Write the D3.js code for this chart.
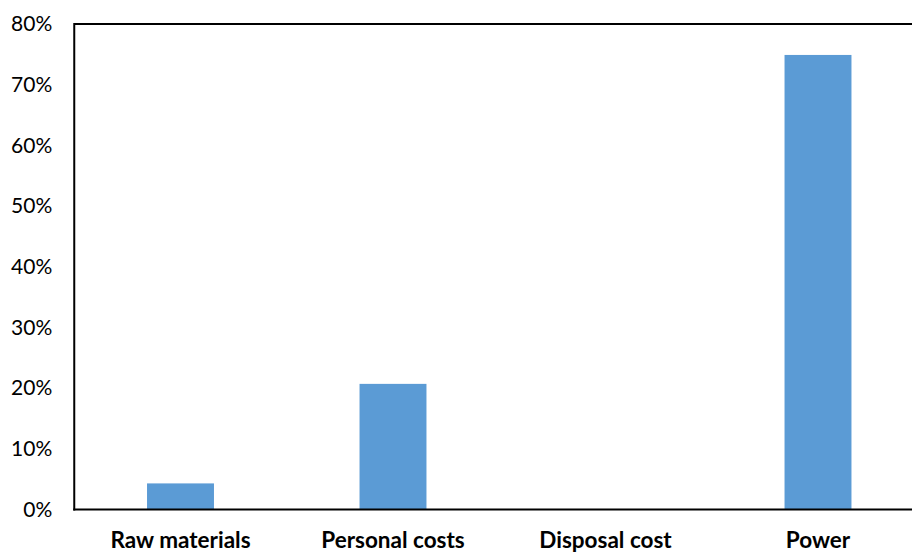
<!DOCTYPE html>
<html>
<head>
<meta charset="utf-8">
<script src="https://cdn.jsdelivr.net/npm/d3@7"></script>
<style>
  html, body { margin: 0; padding: 0; background: #fff; }
  svg { display: block; font-family: Lato, "Open Sans", sans-serif; }
</style>
</head>
<body>
<svg id="chart" width="912" height="552"></svg>
<script>
const categories = ["Raw materials", "Personal costs", "Disposal cost", "Power"];
const values = [4.3, 20.7, 0, 74.9];
const yTicks = [0, 10, 20, 30, 40, 50, 60, 70, 80];

(function () {
const svg = d3.select("#chart");
const mLeft = 74.25, mRight = 924.25, mTop = 24, mBottom = 509.5;

const x = d3.scaleBand().domain(categories).range([mLeft, mRight])
  .paddingInner(0.685).paddingOuter(0.3425);
const y = d3.scaleLinear().domain([0, 80]).range([mBottom, mTop]);

// bars
svg.append("g").selectAll("rect").data(values).join("rect")
  .attr("x", (d, i) => x(categories[i]))
  .attr("width", x.bandwidth())
  .attr("y", d => y(d))
  .attr("height", d => y(0) - y(d))
  .attr("fill", "#5b9bd5");

// frame lines: left, top
svg.append("line").attr("x1", mLeft).attr("x2", 912).attr("y1", mTop).attr("y2", mTop)
  .attr("stroke", "#000").attr("stroke-width", 2);
svg.append("line").attr("x1", mLeft).attr("x2", mLeft).attr("y1", mTop - 1).attr("y2", mBottom + 1)
  .attr("stroke", "#000").attr("stroke-width", 2);

// y axis labels
const yAxis = d3.axisLeft(y).tickValues(yTicks).tickFormat(d => d + "%").tickSize(0).tickPadding(22);
const gy = svg.append("g").attr("transform", `translate(${mLeft},0)`).call(yAxis);
gy.select(".domain").remove();
gy.selectAll("text").attr("font-size", 21).attr("fill", "#000")
  .attr("font-family", "Lato, sans-serif");

// x axis
const xAxis = d3.axisBottom(x).tickSize(0).tickPadding(23);
const gx = svg.append("g").attr("transform", `translate(0,${mBottom})`).call(xAxis);
gx.select(".domain").attr("stroke", "#000").attr("stroke-width", 2)
  .attr("d", `M${mLeft - 1},0H912`);
gx.selectAll("text").attr("font-size", 22.5).attr("font-weight", "bold").attr("fill", "#000")
  .attr("font-family", "Lato, sans-serif");
})();
</script>
</body>
</html>
